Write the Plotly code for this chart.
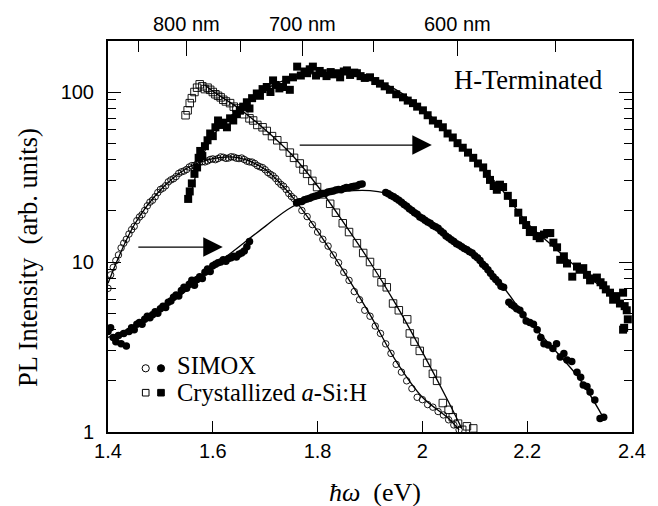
import plotly.graph_objects as go

# ---------------- data ----------------
simox_open_E = [1.400,1.405,1.410,1.415,1.420,1.425,1.430,1.435,1.440,1.445,1.450,1.455,1.460,1.465,1.470,1.475,1.480,1.485,1.490,1.495,
                1.500,1.505,1.510,1.515,1.520,1.525,1.530,1.535,1.540,1.545,1.550,1.555,1.560,1.565,1.570,1.575,1.580,1.585,1.590,1.595,
                1.600,1.605,1.610,1.615,1.620,1.625,1.630,1.635,1.640,1.645,1.650,1.655,1.660,1.665,1.670,1.675,1.680,1.685,1.690,1.695,
                1.700,1.705,1.710,1.715,1.720,1.725,1.730,1.735,1.740,1.745,1.750,1.755,1.760,
                1.77,1.78,1.79,1.80,1.81,1.82,1.83,1.84,1.85,1.86,1.87,1.88,1.89,1.90,1.91,1.92,1.93,1.94,1.95,1.96,1.97,1.98,1.99,
                2.00,2.01,2.02,2.03,2.04,2.05,2.06,2.07]
simox_open_I = [7.0,8.4,9.3,10.2,11.0,12.1,12.9,13.6,14.6,15.5,16.2,17.5,18.4,19.0,20.1,21.4,22.5,23.1,24.2,25.6,
                26.7,27.2,28.1,29.6,30.4,30.9,31.8,33.2,33.9,34.3,35.0,36.2,36.9,37.0,37.6,38.6,38.9,38.8,39.3,40.1,
                40.4,40.0,40.6,41.5,41.3,40.7,40.9,41.6,41.4,40.8,40.6,40.9,40.1,39.2,38.8,38.7,38.0,36.9,36.3,35.9,
                34.9,33.6,32.8,32.1,31.0,29.6,28.6,27.9,26.7,25.3,24.3,23.6,22.4,
                20.1,18.5,16.6,15.0,13.6,12.4,11.0,9.9,8.7,7.8,6.7,6.0,5.2,4.8,4.2,3.8,3.3,2.9,2.5,2.25,2.0,1.8,1.6,
                1.55,1.45,1.40,1.32,1.26,1.18,1.10,1.03]

simox_fill_E = [1.400,1.405,1.410,1.415,1.420,1.425,1.430,1.435,1.440,1.445,1.450,1.455,1.460,1.465,1.470,1.475,1.480,1.485,1.490,1.495,
                1.500,1.505,1.510,1.515,1.520,1.525,1.530,1.535,1.540,1.545,1.550,1.555,1.560,1.565,1.570,1.575,1.580,1.585,1.590,1.595,
                1.600,1.605,1.610,1.615,1.620,1.625,1.630,1.635,1.640,1.645,1.650,1.655,1.660,1.665,1.670,
                1.760,1.765,1.770,1.775,1.780,1.785,1.790,1.795,1.800,1.805,1.810,1.815,1.820,1.825,1.830,1.835,1.840,1.845,1.850,1.855,
                1.860,1.865,1.870,1.875,1.880,1.885,
                1.930,1.935,1.940,1.945,1.950,1.955,1.960,1.965,1.970,1.975,1.980,1.985,1.990,1.995,2.000,2.005,2.010,2.015,2.020,2.025,
                2.030,2.035,2.040,2.045,2.050,2.055,2.060,2.065,2.070,2.075,2.080,2.085,2.090,2.095,2.100,2.105,2.110,2.115,2.120,2.125,
                2.130,2.135,2.140,2.145,2.150,2.155,2.165,2.170,2.175,2.180,2.186,2.192,2.198,2.205,2.212,2.219,2.226,2.232,2.240,2.249,
                2.256,2.263,2.270,2.276,2.285,2.295,2.302,2.307,2.314,2.320,2.329,2.339,2.346]
simox_fill_I = [3.9,4.1,3.6,3.4,3.7,3.3,3.8,3.2,3.9,4.1,4.0,4.3,4.4,4.3,4.6,4.8,4.7,4.9,5.1,5.0,
                5.3,5.5,5.4,5.8,5.9,6.2,6.4,6.3,6.8,7.1,7.0,7.4,7.8,7.3,7.9,8.2,8.0,8.7,9.1,8.8,
                9.5,9.7,9.9,10.0,10.3,10.1,10.5,10.6,10.8,10.7,11.1,11.3,11.6,12.3,13.2,
                22.2,22.6,22.7,23.2,23.5,23.7,24.1,24.4,24.6,25.0,25.3,25.4,25.8,26.0,26.2,26.5,26.7,26.6,27.1,27.4,
                27.3,27.7,27.9,28.0,28.6,28.8,
                25.6,25.2,24.6,24.2,23.6,23.1,22.5,21.8,21.3,20.6,20.1,19.5,19.1,18.4,18.1,17.6,17.2,16.9,16.4,16.1,
                15.8,15.2,14.8,14.2,13.9,13.5,13.2,12.8,12.6,12.3,12.0,11.8,11.5,11.3,10.9,10.6,10.2,9.7,9.4,9.0,
                8.6,8.2,7.9,7.6,7.2,7.1,5.8,5.6,5.5,5.3,5.2,4.9,4.5,4.4,4.3,4.0,3.6,3.3,3.25,3.1,
                3.3,2.76,2.9,2.65,2.6,2.25,2.1,1.89,1.85,1.72,1.54,1.2,1.22]

cryst_open_E = [1.548,1.552,1.556,1.560,1.565,1.570,1.575,1.580,1.585,1.590,1.595,1.600,1.605,1.610,1.615,1.620,1.625,1.633,1.640,1.645,
                1.652,1.660,1.670,1.677,1.685,1.695,1.703,1.713,1.723,1.735,1.747,1.755,1.766,1.773,1.780,1.790,1.799,1.810,1.824,1.835,
                1.848,1.860,1.875,1.887,1.900,1.913,1.922,1.932,1.944,1.955,1.971,1.976,1.985,1.995,2.009,2.020,2.028,2.039,2.050,2.058,
                2.068,2.076,2.085,2.097]
cryst_open_I = [73,78,86,92,100,106,111,108,104,106,103,100,97,95,93,90,88,86,82,80,
                78,74,70,68,64,62,59,55,52,48,44,41,38,35,33,30,27.6,25,22,19.5,
                16.9,15,12.9,11.3,10,8.6,7.6,7.1,5.7,5.2,4.6,3.8,3.4,3.0,2.55,2.2,2.0,1.48,1.35,1.22,
                1.12,1.03,1.08,1.05]

cryst_fill_E = [1.553,1.556,1.560,1.565,1.570,1.573,1.576,1.580,1.585,1.590,1.595,1.600,1.605,1.610,1.615,1.620,1.627,1.633,1.639,1.645,
                1.652,1.658,1.665,1.670,1.675,1.684,1.690,1.695,1.703,1.710,1.715,1.720,1.727,1.734,1.740,1.747,1.753,1.761,1.768,1.775,
                1.780,1.785,1.791,1.797,1.804,1.810,1.817,1.825,1.830,1.837,1.843,1.850,1.856,1.862,1.870,1.875,1.882,1.890,1.900,1.910,
                1.919,1.928,1.938,1.950,1.963,1.972,1.982,1.990,2.001,2.010,2.020,2.030,2.039,2.048,2.058,2.067,2.077,2.087,2.097,2.106,
                2.116,2.123,2.129,2.136,2.142,2.148,2.154,2.163,2.173,2.183,2.192,2.198,2.205,2.211,2.218,2.224,2.232,2.238,2.244,2.250,
                2.257,2.263,2.270,2.276,2.286,2.295,2.300,2.307,2.314,2.320,2.327,2.333,2.340,2.345,2.350,2.358,2.364,2.370,2.377,2.383,
                2.386,2.390,2.392,2.385,2.383]
cryst_fill_I = [23.5,26,29,33,36,41,45,42,48,52,57,55,62,68,64,66,62,70,68,74,
                78,82,87,80,92,98,95,104,107,100,117,110,105,107,118,103,122,141,125,132,
                129,136,141,125,133,129,124,131,127,129,122,132,134,126,130,129,124,121,122,116,
                112,108,103,97,93,89,86,82,78,73,68,65,62,57,54,50,47,44,41,38,
                36,33,30.4,28,26.6,28.5,27.6,24.5,22.2,19.5,17.6,16.5,15,15.4,14.2,13.8,14.5,14.8,14.8,13,
                12.2,10.3,10.8,9.8,8.2,9.4,9.0,9.2,8.4,7.8,8.0,8.1,7.6,7.3,6.9,6.6,6.0,6.3,5.7,6.6,
                5.5,5.2,4.6,4.1,4.0]

# fitted curves
fit_simox_open_E = [1.40,1.45,1.50,1.55,1.60,1.65,1.70,1.75,1.80,1.85,1.90,1.95,2.00,2.05,2.07]
fit_simox_open_I = [7.5,16.5,26.5,35.5,40.5,41,35,24.5,15.2,8.8,4.9,2.6,1.6,1.2,1.03]
fit_simox_fill_E = [1.40,1.45,1.50,1.55,1.60,1.65,1.70,1.75,1.80,1.85,1.90,1.95,2.00,2.05,2.10,2.15,2.20,2.25,2.30,2.345]
fit_simox_fill_I = [3.6,4.2,5.2,6.8,9.3,12.3,16.2,21.0,24.3,26.0,26.3,24.3,18.5,13.9,10.6,7.4,4.6,3.1,2.05,1.22]
fit_cryst_open_E = [1.585,1.60,1.65,1.70,1.75,1.80,1.85,1.90,1.95,2.00,2.05,2.075]
fit_cryst_open_I = [110,101,80,60,43,28,17,10,5.6,2.95,1.5,1.05]
fit_cryst_fill_E = [1.555,1.575,1.60,1.65,1.70,1.75,1.80,1.85,1.90,1.95,2.00,2.05,2.10,2.15,2.20,2.25,2.30,2.35,2.39]
fit_cryst_fill_I = [23,38,55,80,104,121,129,129,121,103,80,57,40,27,17,12.3,9.0,6.8,5.4]

# axes
x_range = [1.4, 2.4]
x_ticks = [1.4, 1.6, 1.8, 2.0, 2.2, 2.4]
x_ticktext = ["1.4", "1.6", "1.8", "2", "2.2", "2.4"]
y_ticks = [1, 10, 100]
y_ticktext = ["1", "10", "100"]
y_minor = [2, 3, 4, 5, 6, 7, 8, 9, 20, 30, 40, 50, 60, 70, 80, 90, 200]
wl_labeled = [800, 700, 600]
wl_minor = [850, 750, 650, 550]

# ---------------- figure ----------------
W, H = 658, 506
OFF = 8                      # page body margin in the browser
pw, ph = 524, 391
L, T = 108 - OFF, 41 - OFF
R, B = W - L - pw, H - T - ph


def px(xp, yp):
    """window pixel -> paper coordinates"""
    return (xp - OFF - L) / pw, (T + ph - (yp - OFF)) / ph


SERIF = "Liberation Serif"
SANS = "Liberation Sans"

fig = go.Figure()
for fx, fy in [(fit_simox_open_E, fit_simox_open_I), (fit_simox_fill_E, fit_simox_fill_I),
               (fit_cryst_open_E, fit_cryst_open_I), (fit_cryst_fill_E, fit_cryst_fill_I)]:
    fig.add_trace(go.Scatter(x=fx, y=fy, mode="lines", line=dict(color="black", width=1.3, shape="spline"),
                             showlegend=False, hoverinfo="skip"))

fig.add_trace(go.Scatter(x=simox_fill_E, y=simox_fill_I, mode="markers",
                         marker=dict(symbol="circle", size=7.5, color="black"), showlegend=False))
fig.add_trace(go.Scatter(x=cryst_fill_E, y=cryst_fill_I, mode="markers",
                         marker=dict(symbol="square", size=8, color="black"), showlegend=False))
fig.add_trace(go.Scatter(x=simox_open_E, y=simox_open_I, mode="markers",
                         marker=dict(symbol="circle-open", size=6.5, color="black", line=dict(width=0.9)),
                         showlegend=False))
fig.add_trace(go.Scatter(x=cryst_open_E, y=cryst_open_I, mode="markers",
                         marker=dict(symbol="square-open", size=7.5, color="black", line=dict(width=0.9)),
                         showlegend=False))
# carrier for the top (wavelength) axis
fig.add_trace(go.Scatter(x=x_range, y=[1, 1], xaxis="x2", mode="lines",
                         line=dict(width=0), showlegend=False, hoverinfo="skip"))

E_lab = [1239.84 / w for w in wl_labeled]
E_min = [1239.84 / w for w in wl_minor]

fig.update_layout(
    width=W, height=H,
    margin=dict(l=L, r=R, t=T, b=B, pad=0, autoexpand=False),
    paper_bgcolor="white", plot_bgcolor="white",
    showlegend=False,
    xaxis=dict(range=x_range, tickvals=x_ticks, ticktext=x_ticktext, ticks="inside", ticklen=11,
               tickwidth=1.2, tickcolor="black", showline=True, linecolor="black", linewidth=2,
               mirror=True, showgrid=False, zeroline=False, automargin=False,
               tickfont=dict(family=SANS, size=20, color="black"), ticklabelstandoff=0),
    xaxis2=dict(range=x_range, overlaying="x", side="top", tickvals=E_lab, showticklabels=False,
                ticks="inside", ticklen=15, tickwidth=1.2,
                tickcolor="black", showgrid=False, zeroline=False, showline=False, automargin=False,
                minor=dict(tickvals=E_min, ticks="inside", ticklen=11, tickwidth=1.2, tickcolor="black", showgrid=False)),
    yaxis=dict(type="log", range=[0, 2.3], tickvals=y_ticks, ticktext=y_ticktext, ticks="inside",
               ticklen=13, tickwidth=1.2, tickcolor="black", showline=True, linecolor="black",
               linewidth=2, mirror="ticks", showgrid=False, zeroline=False, automargin=False,
               minor=dict(tickvals=y_minor, ticks="inside", ticklen=8, tickwidth=1.2, tickcolor="black", showgrid=False),
               tickfont=dict(family=SANS, size=20, color="black"), ticklabelstandoff=8),
)

ann = []


def label(xp, yp, text, size, xanchor="center", angle=0):
    x0, y0 = px(xp, yp)
    ann.append(dict(x=x0, y=y0, xref="paper", yref="paper", text=text, textangle=angle,
                    xanchor=xanchor, yanchor="middle", showarrow=False,
                    font=dict(family=SERIF, size=size, color="black")))


label(28, 258, "PL Intensity  (arb. units)", 26.5, angle=-90)
label(375, 493, "<i>ħω</i>  (eV)", 26)
label(452, 80, "H-Terminated", 26.5, xanchor="left")
label(175, 365, "SIMOX", 24.5, xanchor="left")
label(175, 392, "Crystallized <i>a</i>-Si:H", 24.5, xanchor="left")

# wavelength labels of the top axis, placed at their photon energies
_, y_top = px(0, 24)
for wl, e in zip(wl_labeled, E_lab):
    ann.append(dict(x=e, y=y_top, xref="x", yref="paper", text=f"{wl} nm", showarrow=False,
                    xanchor="center", yanchor="middle", font=dict(family=SANS, size=20, color="black")))

# arrows (data coordinates; y in log10 units)
ann.append(dict(x=1.619, y=1.088, ax=1.455, ay=1.088, xref="x", yref="y", axref="x", ayref="y",
                text="", showarrow=True, arrowhead=2, arrowsize=3, arrowwidth=1.3, arrowcolor="black"))
ann.append(dict(x=2.018, y=1.688, ax=1.763, ay=1.688, xref="x", yref="y", axref="x", ayref="y",
                text="", showarrow=True, arrowhead=2, arrowsize=3, arrowwidth=1.3, arrowcolor="black"))
fig.update_layout(annotations=ann)

# legend symbols
shapes = []
for (cx, cy, kind, filled, r) in [(145.7, 368.3, "circle", False, 3.6), (161, 368.3, "circle", True, 3.6),
                                  (145.7, 392.7, "rect", False, 3.3), (161, 392.7, "rect", True, 3.3)]:
    xa, ya = px(cx - r, cy + r)
    xb, yb = px(cx + r, cy - r)
    shapes.append(dict(type=kind, xref="paper", yref="paper", x0=xa, y0=ya, x1=xb, y1=yb,
                       line=dict(color="black", width=1), fillcolor="black" if filled else "white"))
fig.update_layout(shapes=shapes)

fig.write_html("out.html")
